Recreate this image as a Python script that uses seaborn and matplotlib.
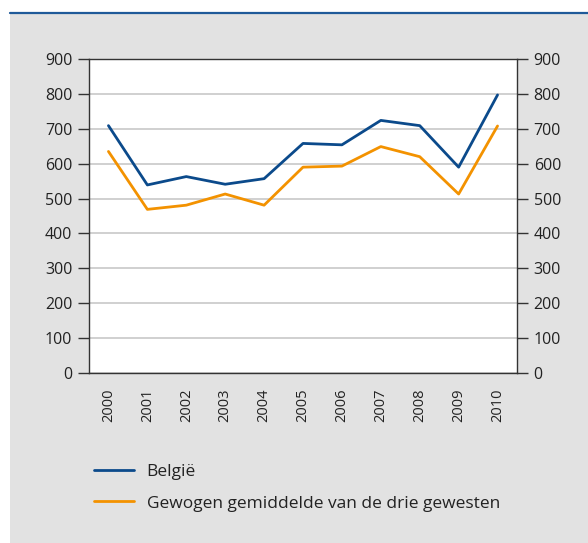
import matplotlib
matplotlib.use("Agg")
from matplotlib import pyplot as plt
from matplotlib.patches import Rectangle
from matplotlib.lines import Line2D
import seaborn as sns
import pandas as pd
import numpy as np

years = ["2000", "2001", "2002", "2003", "2004", "2005", "2006", "2007", "2008", "2009", "2010"]
belgie = [709, 539, 563, 541, 557, 658, 654, 724, 709, 590, 797]
gewesten = [635, 469, 481, 513, 481, 590, 593, 649, 620, 513, 708]
series_names = ["België", "Gewogen gemiddelde van de drie gewesten"]
colors = ["#0b4a8b", "#f39200"]
yticks = list(range(0, 1000, 100))

sns.set_style("white")
plt.rcParams["font.family"] = ["Open Sans", "DejaVu Sans"]
text_col = "#222222"

df = pd.DataFrame({
    "jaar": years * 2,
    "waarde": belgie + gewesten,
    "reeks": [series_names[0]] * len(years) + [series_names[1]] * len(years),
})

fig = plt.figure(figsize=(5.88, 5.43), dpi=100)
fig.patch.set_facecolor("white")
# grey panel and blue rule at the top
fig.patches.append(Rectangle((10 / 588, 0), 1 - 10 / 588, (543 - 14) / 543,
                             transform=fig.transFigure, facecolor="#e2e2e2", edgecolor="none", zorder=-5))
fig.lines.append(Line2D([10 / 588, 1], [(543 - 13) / 543] * 2, transform=fig.transFigure,
                        color="#1f5a99", lw=1.6, zorder=-4))

ax = fig.add_axes([89 / 588, (543 - 373) / 543, 428 / 588, 314 / 543])
ax.set_facecolor("white")
sns.lineplot(data=df, x="jaar", y="waarde", hue="reeks", palette=colors, lw=2.0,
             ax=ax, legend=False, sort=False)

ax.set_xlim(-0.5, len(years) - 0.5)
ax.set_ylim(0, 900)
ax.set_yticks(yticks)
ax.yaxis.grid(True, color="#c4c4c4", lw=1.1)
ax.set_axisbelow(True)
ax.set_xlabel("")
ax.set_ylabel("")

ax.set_xticks(range(len(years)))
ax.set_xticklabels(years, rotation=90)
ax.set_xticks(np.arange(0.5, len(years) - 1, 1.0), minor=True)
ax.tick_params(axis="x", which="major", length=0, pad=11, labelsize=10.5, labelcolor=text_col)
ax.tick_params(axis="x", which="minor", direction="in", length=8, width=1, color="#333333")
ax.tick_params(axis="y", direction="out", length=8, width=1, color="#333333",
               left=True, right=True, labelleft=True, labelright=True,
               labelsize=11.5, labelcolor=text_col, pad=4)

for s in ax.spines.values():
    s.set_visible(True)
    s.set_color("#333333")
    s.set_linewidth(1)

handles = [Line2D([], [], color=c, lw=2.0) for c in colors]
fig.legend(handles, series_names, loc="upper left", bbox_to_anchor=(78 / 588, (543 - 448) / 543),
           frameon=False, handlelength=2.3, handletextpad=0.75, labelspacing=0.9,
           fontsize=12.5, labelcolor=text_col)

fig.savefig("out.png", dpi=100)
